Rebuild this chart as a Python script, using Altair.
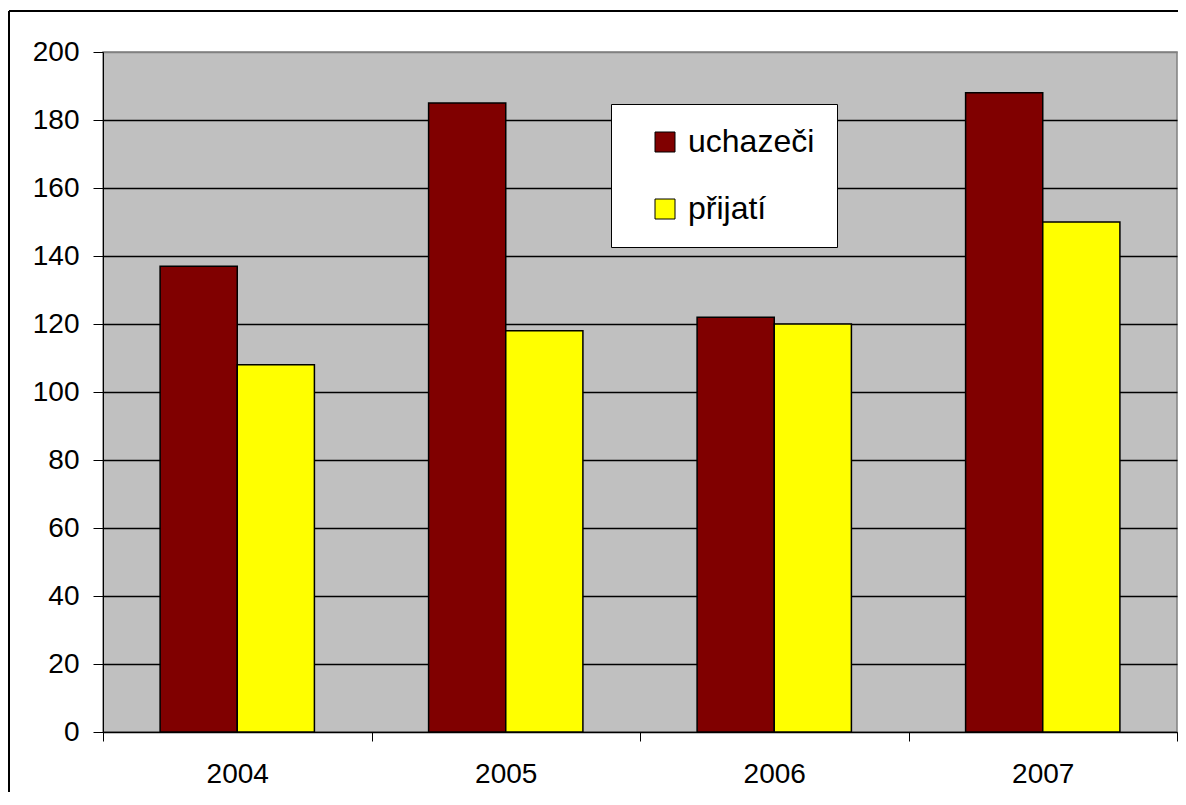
import altair as alt
import pandas as pd

years = ["2004", "2005", "2006", "2007"]
series = ["uchazeči", "přijatí"]
uchazeci = [137, 185, 122, 188]
prijati = [108, 118, 120, 150]
y_ticks = [0, 20, 40, 60, 80, 100, 120, 140, 160, 180, 200]

rows = []
for i, yr in enumerate(years):
    rows.append({"rok": yr, "skupina": series[0], "pocet": uchazeci[i]})
    rows.append({"rok": yr, "skupina": series[1], "pocet": prijati[i]})
df = pd.DataFrame(rows)

W, H = 1074, 680
PAD_L, PAD_T, PAD_R, PAD_B = 95, 44, 1, 60
FONT = "Liberation Sans"

bars = alt.Chart(df).mark_bar(stroke="black", strokeWidth=1.5).encode(
    x=alt.X("rok:N", sort=years,
            scale=alt.Scale(paddingInner=0, paddingOuter=0),
            axis=alt.Axis(title=None, labelAngle=0, tickBand="extent",
                          tickSize=9, tickColor="black", domainColor="black",
                          labelFontSize=28, labelColor="black", labelFont=FONT,
                          labelPadding=19, grid=False)),
    xOffset=alt.XOffset("skupina:N", sort=series,
                        scale=alt.Scale(paddingOuter=0.74, paddingInner=0)),
    y=alt.Y("pocet:Q",
            scale=alt.Scale(domain=[0, 200], nice=False),
            axis=alt.Axis(title=None, values=y_ticks, tickSize=10,
                          tickColor="black", domainColor="black",
                          labelFontSize=28, labelColor="black", labelFont=FONT,
                          labelPadding=14, grid=True,
                          gridColor=alt.condition("datum.value >= 200",
                                                  alt.value("#808080"),
                                                  alt.value("black")),
                          gridWidth=1.5)),
    color=alt.Color("skupina:N",
                    scale=alt.Scale(domain=series, range=["#800000", "#FFFF00"]),
                    legend=alt.Legend(title=None, orient="none", legendX=508, legendY=52,
                                      fillColor="white", strokeColor="black",
                                      padding=22, symbolType="square", symbolSize=400,
                                      symbolStrokeColor="black", symbolStrokeWidth=1,
                                      symbolOffset=16, labelOffset=7,
                                      labelFontSize=32, labelFont=FONT, labelColor="black",
                                      rowPadding=35)),
)

one = pd.DataFrame({"a": [0]})
frame_left = alt.Chart(one).mark_rule(color="black", strokeWidth=2).encode(
    x=alt.value(-94), y=alt.value(-41), y2=alt.value(H + PAD_B),
)
frame_top = alt.Chart(one).mark_rule(color="black", strokeWidth=2).encode(
    y=alt.value(-41), x=alt.value(-94), x2=alt.value(W + PAD_R),
)

chart = alt.layer(frame_left, frame_top, bars).properties(
    width=W, height=H,
    autosize=alt.AutoSizeParams(type="none"),
    padding={"left": PAD_L, "top": PAD_T, "right": PAD_R, "bottom": PAD_B},
    background="white",
).configure_view(fill="#C0C0C0", stroke="#808080", strokeWidth=1.5)

chart.save("out.html", embed_options={"renderer": "svg", "actions": False})
